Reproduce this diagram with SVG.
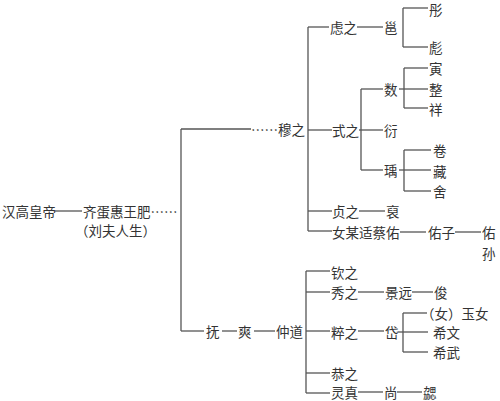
<svg xmlns="http://www.w3.org/2000/svg" width="500" height="401" viewBox="0 0 500 401">
<style>
text{font-family:"Noto Sans CJK SC","Noto Sans CJK TC",sans-serif;font-size:13.5px;fill:#333;dominant-baseline:central}
.c line{stroke:#555;stroke-width:1.3;fill:none}
</style>
<rect width="500" height="401" fill="#fff"/>
<g class="c" id="connectors">
<line x1="55" y1="211" x2="82" y2="211"/>
<line x1="181" y1="129" x2="181" y2="331"/>
<line x1="181" y1="129" x2="251" y2="129"/>
<line x1="181" y1="331" x2="204" y2="331"/>
<line x1="222" y1="331" x2="237" y2="331"/>
<line x1="254" y1="331" x2="275" y2="331"/>
<line x1="308" y1="27" x2="308" y2="231"/>
<line x1="308" y1="27" x2="329" y2="27"/>
<line x1="357" y1="27" x2="383" y2="27"/>
<line x1="403" y1="8" x2="403" y2="47"/>
<line x1="403" y1="8" x2="428" y2="8"/>
<line x1="403" y1="47" x2="428" y2="47"/>
<line x1="308" y1="130" x2="332" y2="130"/>
<line x1="361" y1="89" x2="361" y2="170"/>
<line x1="361" y1="89" x2="383" y2="89"/>
<line x1="359" y1="130" x2="383" y2="130"/>
<line x1="361" y1="170" x2="383" y2="170"/>
<line x1="404" y1="68" x2="404" y2="108"/>
<line x1="404" y1="68" x2="428" y2="68"/>
<line x1="399" y1="89" x2="428" y2="89"/>
<line x1="404" y1="108" x2="428" y2="108"/>
<line x1="404" y1="150" x2="404" y2="191"/>
<line x1="404" y1="150" x2="431" y2="150"/>
<line x1="399" y1="170" x2="431" y2="170"/>
<line x1="404" y1="191" x2="431" y2="191"/>
<line x1="308" y1="211" x2="332" y2="211"/>
<line x1="359" y1="211" x2="385" y2="211"/>
<line x1="308" y1="231" x2="332" y2="231"/>
<line x1="400" y1="232" x2="426" y2="232"/>
<line x1="455" y1="232" x2="481" y2="232"/>
<line x1="306" y1="271" x2="306" y2="393"/>
<line x1="306" y1="271" x2="330" y2="271"/>
<line x1="306" y1="292" x2="330" y2="292"/>
<line x1="306" y1="331" x2="330" y2="331"/>
<line x1="306" y1="373" x2="330" y2="373"/>
<line x1="306" y1="393" x2="330" y2="393"/>
<line x1="358" y1="292" x2="384" y2="292"/>
<line x1="412" y1="292" x2="433" y2="292"/>
<line x1="358" y1="331" x2="384" y2="331"/>
<line x1="403" y1="313" x2="403" y2="352"/>
<line x1="403" y1="313" x2="427" y2="313"/>
<line x1="398" y1="332" x2="428" y2="332"/>
<line x1="403" y1="352" x2="428" y2="352"/>
<line x1="358" y1="392" x2="383" y2="392"/>
<line x1="397" y1="392" x2="422" y2="392"/>
</g>
<g id="n-gaodi"><text x="2" y="211">汉高皇帝</text></g>
<g id="n-fei"><text x="83" y="211">齐蛋惠王肥……</text><text x="75" y="230">（刘夫人生）</text></g>
<g id="n-muzhi"><text x="251" y="129">……穆之</text></g>
<g id="n-lvzhi"><text x="330" y="27">虑之</text></g>
<g id="n-yong"><text x="384" y="27">邕</text></g>
<g id="n-tong"><text x="429" y="8.5">彤</text></g>
<g id="n-biao"><text x="429" y="47">彪</text></g>
<g id="n-shizhi"><text x="332" y="130">式之</text></g>
<g id="n-shu"><text x="384" y="89">数</text></g>
<g id="n-yin"><text x="429" y="68">寅</text></g>
<g id="n-zheng"><text x="429" y="89">整</text></g>
<g id="n-xiang"><text x="429" y="109">祥</text></g>
<g id="n-yan"><text x="384" y="130">衍</text></g>
<g id="n-yu"><text x="384" y="170">瑀</text></g>
<g id="n-juan"><text x="433" y="150">卷</text></g>
<g id="n-cang"><text x="433" y="171">藏</text></g>
<g id="n-she"><text x="433" y="191">舍</text></g>
<g id="n-zhenzhi"><text x="332" y="211">贞之</text></g>
<g id="n-pou"><text x="386" y="211">裒</text></g>
<g id="n-nvmou"><text x="332" y="232">女某适蔡佑</text></g>
<g id="n-youzi"><text x="428" y="232">佑子</text></g>
<g id="n-yousun"><text x="482" y="232">佑</text><text x="482" y="253">孙</text></g>
<g id="n-fu"><text x="206" y="331">抚</text></g>
<g id="n-shuang"><text x="238" y="331">爽</text></g>
<g id="n-zhongdao"><text x="276" y="331">仲道</text></g>
<g id="n-qinzhi"><text x="331" y="272">钦之</text></g>
<g id="n-xiuzhi"><text x="331" y="292">秀之</text></g>
<g id="n-jingyuan"><text x="385" y="292">景远</text></g>
<g id="n-jun"><text x="434" y="292">俊</text></g>
<g id="n-cuizhi"><text x="331" y="332">粹之</text></g>
<g id="n-dai"><text x="385" y="332">岱</text></g>
<g id="n-yunv"><text x="421" y="313">（女）玉女</text></g>
<g id="n-xiwen"><text x="433" y="332">希文</text></g>
<g id="n-xiwu"><text x="433" y="352">希武</text></g>
<g id="n-gongzhi"><text x="331" y="373">恭之</text></g>
<g id="n-lingzhen"><text x="331" y="392">灵真</text></g>
<g id="n-shang"><text x="384" y="392">尚</text></g>
<g id="n-xie"><text x="423" y="392">勰</text></g>
</svg>
